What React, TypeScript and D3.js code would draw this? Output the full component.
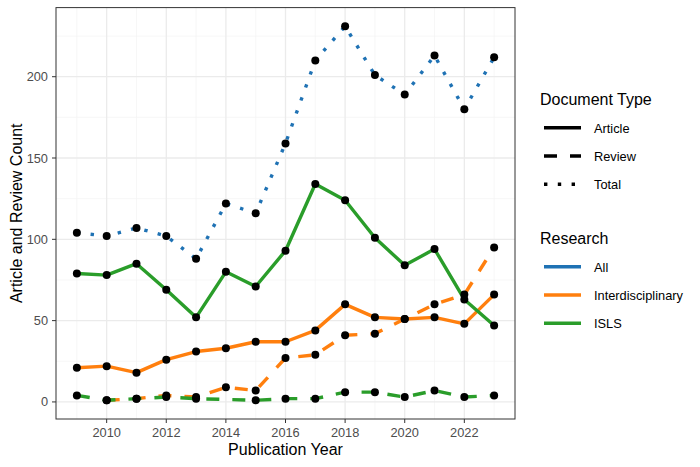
import * as d3 from "d3";

// data
const years: number[] = [2009, 2010, 2011, 2012, 2013, 2014, 2015, 2016, 2017, 2018, 2019, 2020, 2021, 2022, 2023];
const allTotal: (number | null)[] = [104, 102, 107, 102, 88, 122, 116, 159, 210, 231, 201, 189, 213, 180, 212];
const interArticle: (number | null)[] = [21, 22, 18, 26, 31, 33, 37, 37, 44, 60, 52, 51, 52, 48, 66];
const interReview: (number | null)[] = [null, 1, 2, 4, 3, 9, 7, 27, 29, 41, 42, 51, 60, 66, 95];
const islsArticle: (number | null)[] = [79, 78, 85, 69, 52, 80, 71, 93, 134, 124, 101, 84, 94, 63, 47];
const islsReview: (number | null)[] = [4, 1, 2, 3, 2, null, 1, 2, 2, 6, 6, 3, 7, 3, 4];

const xBreaks: number[] = [2010, 2012, 2014, 2016, 2018, 2020, 2022];
const yBreaks: number[] = [0, 50, 100, 150, 200];
const docTypes: string[] = ["Article", "Review", "Total"];
const groups: string[] = ["All", "Interdisciplinary", "ISLS"];

const colors: Record<string, string> = { All: "#1f72b4", Interdisciplinary: "#ff7f0e", ISLS: "#2a9d2a" };
const dashes: Record<string, string> = { Article: "none", Review: "13 13", Total: "3.4 10.4" };

const series = [
  { group: "All", type: "Total", values: allTotal },
  { group: "Interdisciplinary", type: "Article", values: interArticle },
  { group: "Interdisciplinary", type: "Review", values: interReview },
  { group: "ISLS", type: "Article", values: islsArticle },
  { group: "ISLS", type: "Review", values: islsReview },
];

const font = "'Liberation Sans', Arial, sans-serif";

export default function App() {
  const w = 700;
  const h = 467;
  const panel = { left: 56, right: 515, top: 7.6, bottom: 419 };

  // ggplot style 5% expansion
  const xMin = d3.min(years)!;
  const xMax = d3.max(years)!;
  const xPad = (xMax - xMin) * 0.05;
  const x = d3.scaleLinear().domain([xMin - xPad, xMax + xPad]).range([panel.left, panel.right]);

  const allVals = series.flatMap((s) => s.values.filter((v) => v !== null) as number[]);
  const yLo = d3.min(allVals)!;
  const yHi = d3.max(allVals)!;
  const yPad = (yHi - yLo) * 0.05;
  const y = d3.scaleLinear().domain([yLo - yPad, yHi + yPad]).range([panel.bottom, panel.top]);

  const xMinor = d3.range(2009, 2024, 2);
  const yMinor = [25, 75, 125, 175, 225];

  const line = d3
    .line<[number, number]>()
    .x((d) => x(d[0]))
    .y((d) => y(d[1]));

  const pointsOf = (vals: (number | null)[]) =>
    years.map((yr, i) => [yr, vals[i]] as [number, number | null]).filter((d) => d[1] !== null) as [number, number][];

  const legX = 540;
  const keyX0 = 544;
  const keyX1 = 581;
  const labX = 594;
  const rowGap = 28.3;

  return (
    <svg width={w} height={h} style={{ position: "absolute", left: 0, top: 0, background: "#fff" }} fontFamily={font}>
      <rect x={0} y={0} width={w} height={h} fill="#fff" />
      {/* grid */}
      {xMinor.map((v) => (
        <line key={"xm" + v} x1={x(v)} x2={x(v)} y1={panel.top} y2={panel.bottom} stroke="#f3f3f3" strokeWidth={0.7} />
      ))}
      {yMinor.map((v) => (
        <line key={"ym" + v} x1={panel.left} x2={panel.right} y1={y(v)} y2={y(v)} stroke="#f3f3f3" strokeWidth={0.7} />
      ))}
      {xBreaks.map((v) => (
        <line key={"xg" + v} x1={x(v)} x2={x(v)} y1={panel.top} y2={panel.bottom} stroke="#ebebeb" strokeWidth={1.3} />
      ))}
      {yBreaks.map((v) => (
        <line key={"yg" + v} x1={panel.left} x2={panel.right} y1={y(v)} y2={y(v)} stroke="#ebebeb" strokeWidth={1.3} />
      ))}

      {/* lines */}
      {series.map((s) => (
        <path
          key={s.group + s.type}
          d={line(pointsOf(s.values)) || ""}
          fill="none"
          stroke={colors[s.group]}
          strokeWidth={3.4}
          strokeDasharray={dashes[s.type]}
          strokeLinecap="butt"
          strokeLinejoin="round"
        />
      ))}
      {/* points */}
      {series.map((s) =>
        pointsOf(s.values).map((d) => (
          <circle key={s.group + s.type + d[0]} cx={x(d[0])} cy={y(d[1])} r={4} fill="#000" />
        ))
      )}

      <rect
        x={panel.left}
        y={panel.top}
        width={panel.right - panel.left}
        height={panel.bottom - panel.top}
        fill="none"
        stroke="#333"
        strokeWidth={1}
      />

      {/* axes */}
      {xBreaks.map((v) => (
        <g key={"xt" + v}>
          <line x1={x(v)} x2={x(v)} y1={panel.bottom} y2={panel.bottom + 4} stroke="#333" strokeWidth={1} />
          <text x={x(v)} y={437} textAnchor="middle" fontSize={12.8} fill="#4d4d4d">
            {v}
          </text>
        </g>
      ))}
      {yBreaks.map((v) => (
        <g key={"yt" + v}>
          <line x1={panel.left - 4} x2={panel.left} y1={y(v)} y2={y(v)} stroke="#333" strokeWidth={1} />
          <text x={48} y={y(v) + 4.5} textAnchor="end" fontSize={12.8} fill="#4d4d4d">
            {v}
          </text>
        </g>
      ))}
      <text x={(panel.left + panel.right) / 2} y={455} textAnchor="middle" fontSize={16} fill="#000">
        Publication Year
      </text>
      <text
        transform={`translate(22, ${(panel.top + panel.bottom) / 2}) rotate(-90)`}
        textAnchor="middle"
        fontSize={16}
        fill="#000"
      >
        Article and Review Count
      </text>

      {/* legends */}
      <text x={legX} y={105} fontSize={16} fill="#000">
        Document Type
      </text>
      {docTypes.map((t, i) => {
        const yy = 127.7 + i * rowGap;
        return (
          <g key={"dt" + t}>
            <line x1={keyX0} x2={keyX1} y1={yy} y2={yy} stroke="#000" strokeWidth={3.4} strokeDasharray={dashes[t]} />
            <text x={labX} y={yy + 5} fontSize={12.8} fill="#000">
              {t}
            </text>
          </g>
        );
      })}
      <text x={legX} y={244} fontSize={16} fill="#000">
        Research
      </text>
      {groups.map((g, i) => {
        const yy = 266.7 + i * rowGap;
        return (
          <g key={"gr" + g}>
            <line x1={keyX0} x2={keyX1} y1={yy} y2={yy} stroke={colors[g]} strokeWidth={3.4} />
            <text x={labX} y={yy + 5} fontSize={12.8} fill="#000">
              {g}
            </text>
          </g>
        );
      })}
    </svg>
  );
}
